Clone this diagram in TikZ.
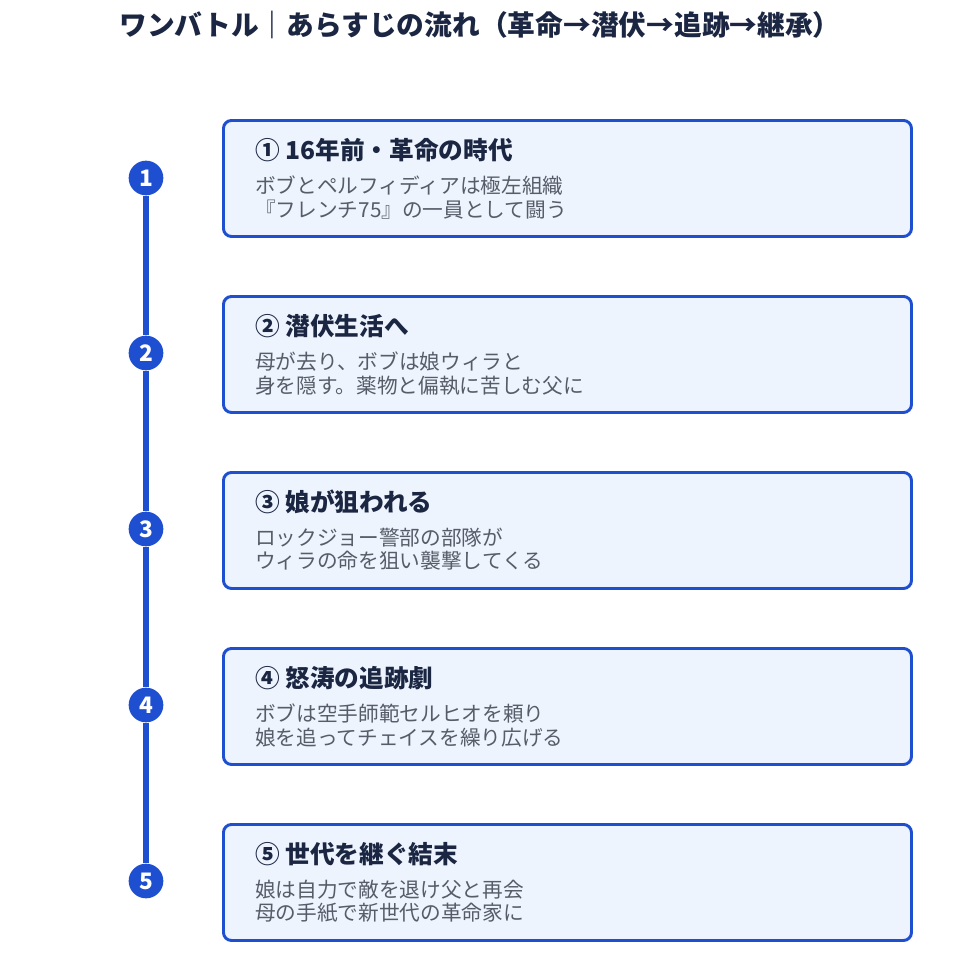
\documentclass[tikz,border=0pt]{standalone}
\usepackage{fontspec}
\setmainfont{Noto Sans CJK JP}
\usetikzlibrary{positioning}
\definecolor{stepblue}{HTML}{1F4FD1}
\definecolor{cardfill}{HTML}{EEF4FE}
\definecolor{headink}{HTML}{1B2642}
\definecolor{bodyink}{HTML}{575D68}
\tikzset{
  card/.style={draw=stepblue,line width=2.2pt,fill=cardfill,rounded corners=6pt,minimum width=516pt,minimum height=87pt,anchor=north west},
  dot/.style={circle,fill=stepblue,minimum size=26pt,inner sep=0pt,text=white,font=\fontsize{17}{17}\selectfont\bfseries},
  head/.style={anchor=west,text=headink,font=\fontsize{18.5}{20}\selectfont\bfseries,inner sep=0pt},
  body/.style={anchor=north west,text=bodyink,font=\fontsize{15.5}{17.3}\selectfont,align=left,inner sep=0pt}
}
\begin{document}
\begin{tikzpicture}[x=0.75pt,y=-0.75pt]
  \useasboundingbox (0,0) rectangle (973,974);
  \node[text=headink,font=\fontsize{20.8}{22}\selectfont\bfseries] (title) at (480,25) {ワンバトル｜あらすじの流れ（革命→潜伏→追跡→継承）};

  \node[dot] (d1) at (146,178) {1};
  \node[dot] (d2) at (146,353) {2};
  \node[dot] (d3) at (146,529) {3};
  \node[dot] (d4) at (146,705) {4};
  \node[dot] (d5) at (146,881) {5};
  \foreach \a/\b in {d1/d2,d2/d3,d3/d4,d4/d5}
    \draw[stepblue,line width=4.5pt] (\a) -- (\b);

  \node[card] (c1) at (222,119) {};
  \node[card] (c2) at (222,295) {};
  \node[card] (c3) at (222,471) {};
  \node[card] (c4) at (222,647) {};
  \node[card] (c5) at (222,823) {};

  \node[head] (h1) at (255,150) {① 16年前・革命の時代};
  \node[body] (b1) at (255,176) {ボブとペルフィディアは極左組織\\『フレンチ75』の一員として闘う};
  \node[head] (h2) at (255,326) {② 潜伏生活へ};
  \node[body] (b2) at (255,352) {母が去り、ボブは娘ウィラと\\身を隠す。薬物と偏執に苦しむ父に};
  \node[head] (h3) at (255,502) {③ 娘が狙われる};
  \node[body] (b3) at (255,528) {ロックジョー警部の部隊が\\ウィラの命を狙い襲撃してくる};
  \node[head] (h4) at (255,678) {④ 怒涛の追跡劇};
  \node[body] (b4) at (255,704) {ボブは空手師範セルヒオを頼り\\娘を追ってチェイスを繰り広げる};
  \node[head] (h5) at (255,854) {⑤ 世代を継ぐ結末};
  \node[body] (b5) at (255,880) {娘は自力で敵を退け父と再会\\母の手紙で新世代の革命家に};
\end{tikzpicture}
\end{document}
